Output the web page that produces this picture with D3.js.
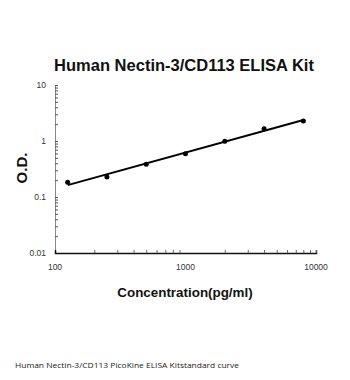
<!DOCTYPE html>
<html>
<head>
<meta charset="utf-8">
<script src="https://cdn.jsdelivr.net/npm/d3@7/dist/d3.min.js"></script>
<style>
  html, body { margin: 0; padding: 0; background: #fff; }
  svg { display: block; }
</style>
</head>
<body>
<svg id="chart" width="350" height="380"></svg>
<script>
// Standard curve readings
const concentrations = [125, 250, 500, 1000, 2000, 4000, 8000];   // pg/ml
const odValues       = [0.183, 0.228, 0.384, 0.593, 0.99, 1.66, 2.28];

const xTickValues = [100, 1000, 10000];
const xTickLabels = ["100", "1000", "10000"];
const yTickValues = [0.01, 0.1, 1, 10];
const yTickLabels = ["0.01", "0.1", "1", "10"];

const titleText   = "Human Nectin-3/CD113 ELISA Kit";
const xAxisTitle  = "Concentration(pg/ml)";
const yAxisTitle  = "O.D.";
const captionText = "Human Nectin-3/CD113 PicoKine ELISA Kitstandard curve";

const svg = d3.select("#chart");
const font = "'Liberation Sans', Arial, sans-serif";

const plot = { left: 55, right: 316, top: 85, bottom: 253 };

const x = d3.scaleLog().domain([100, 10000]).range([plot.left, plot.right]);
const y = d3.scaleLog().domain([0.01, 10]).range([plot.bottom, plot.top]);

// minor ticks (2..9 within each decade)
function minorTicks(lo, hi) {
  const out = [];
  for (let d = lo; d < hi; d *= 10)
    for (let k = 2; k <= 9; k++) out.push(d * k);
  return out;
}

// Y axis: thin grey line, ticks pointing inward
const yAxisG = svg.append("g").attr("transform", `translate(${plot.left},0)`);
yAxisG.call(d3.axisRight(y).tickValues(minorTicks(0.01, 10)).tickSize(3).tickFormat(""));
yAxisG.append("g").call(d3.axisRight(y).tickValues(yTickValues).tickSize(3).tickFormat(""));
yAxisG.selectAll(".domain").attr("stroke", "#8a8a8a").attr("stroke-width", 1);
yAxisG.selectAll(".tick line").attr("stroke", "#555").attr("stroke-width", 1);
yAxisG.selectAll("g > .domain").filter((d, i) => i > 0).remove();

svg.append("g").selectAll("text")
  .data(yTickValues)
  .join("text")
  .attr("x", plot.left - 9)
  .attr("y", d => y(d))
  .attr("dy", "0.35em")
  .attr("text-anchor", "end")
  .attr("font-family", font)
  .attr("font-size", 8.5)
  .attr("fill", "#333")
  .text((d, i) => yTickLabels[i]);

// X axis: black line, ticks pointing up
const xAxisG = svg.append("g").attr("transform", `translate(0,${plot.bottom})`);
xAxisG.call(d3.axisTop(x).tickValues(minorTicks(100, 10000).concat([10000])).tickSize(3).tickFormat(""));
xAxisG.select(".domain").attr("stroke", "#111").attr("stroke-width", 1.5);
xAxisG.selectAll(".tick line").attr("stroke", "#666").attr("stroke-width", 1);

svg.append("g").selectAll("text")
  .data(xTickValues)
  .join("text")
  .attr("x", d => x(d))
  .attr("y", plot.bottom + 14)
  .attr("dy", "0.35em")
  .attr("text-anchor", "middle")
  .attr("font-family", font)
  .attr("font-size", 8.5)
  .attr("fill", "#333")
  .text((d, i) => xTickLabels[i]);

// log-log least squares trend line through the standards
const lx = concentrations.map(Math.log10);
const ly = odValues.map(Math.log10);
const mx = d3.mean(lx), my = d3.mean(ly);
const slope = d3.sum(lx, (v, i) => (v - mx) * (ly[i] - my)) / d3.sum(lx, v => (v - mx) ** 2);
const icpt = my - slope * mx;
const fitX = d3.extent(concentrations);
const fitPts = fitX.map(c => [c, Math.pow(10, icpt + slope * Math.log10(c))]);

svg.append("path")
  .datum(fitPts)
  .attr("d", d3.line().x(d => x(d[0])).y(d => y(d[1])))
  .attr("fill", "none")
  .attr("stroke", "#000")
  .attr("stroke-width", 2);

svg.append("g").selectAll("circle")
  .data(concentrations)
  .join("circle")
  .attr("cx", d => x(d))
  .attr("cy", (d, i) => y(odValues[i]))
  .attr("r", 2.5)
  .attr("fill", "#000");

// Titles
svg.append("text")
  .attr("x", 184).attr("y", 71)
  .attr("text-anchor", "middle")
  .attr("font-family", font).attr("font-weight", "bold")
  .attr("font-size", 16.5).attr("fill", "#111")
  .text(titleText);

svg.append("text")
  .attr("x", 185).attr("y", 297)
  .attr("text-anchor", "middle")
  .attr("font-family", font).attr("font-weight", "bold")
  .attr("font-size", 13.4).attr("fill", "#111")
  .text(xAxisTitle);

svg.append("text")
  .attr("transform", "translate(27,168) rotate(-90)")
  .attr("text-anchor", "middle")
  .attr("font-family", font).attr("font-weight", "bold")
  .attr("font-size", 15).attr("fill", "#111")
  .text(yAxisTitle);

svg.append("text")
  .attr("x", 15).attr("y", 367.5)
  .attr("font-family", "'Open Sans', 'Liberation Sans', sans-serif")
  .attr("font-size", 7.5).attr("fill", "#222")
  .attr("textLength", 224).attr("lengthAdjust", "spacingAndGlyphs")
  .text(captionText);
</script>
</body>
</html>
